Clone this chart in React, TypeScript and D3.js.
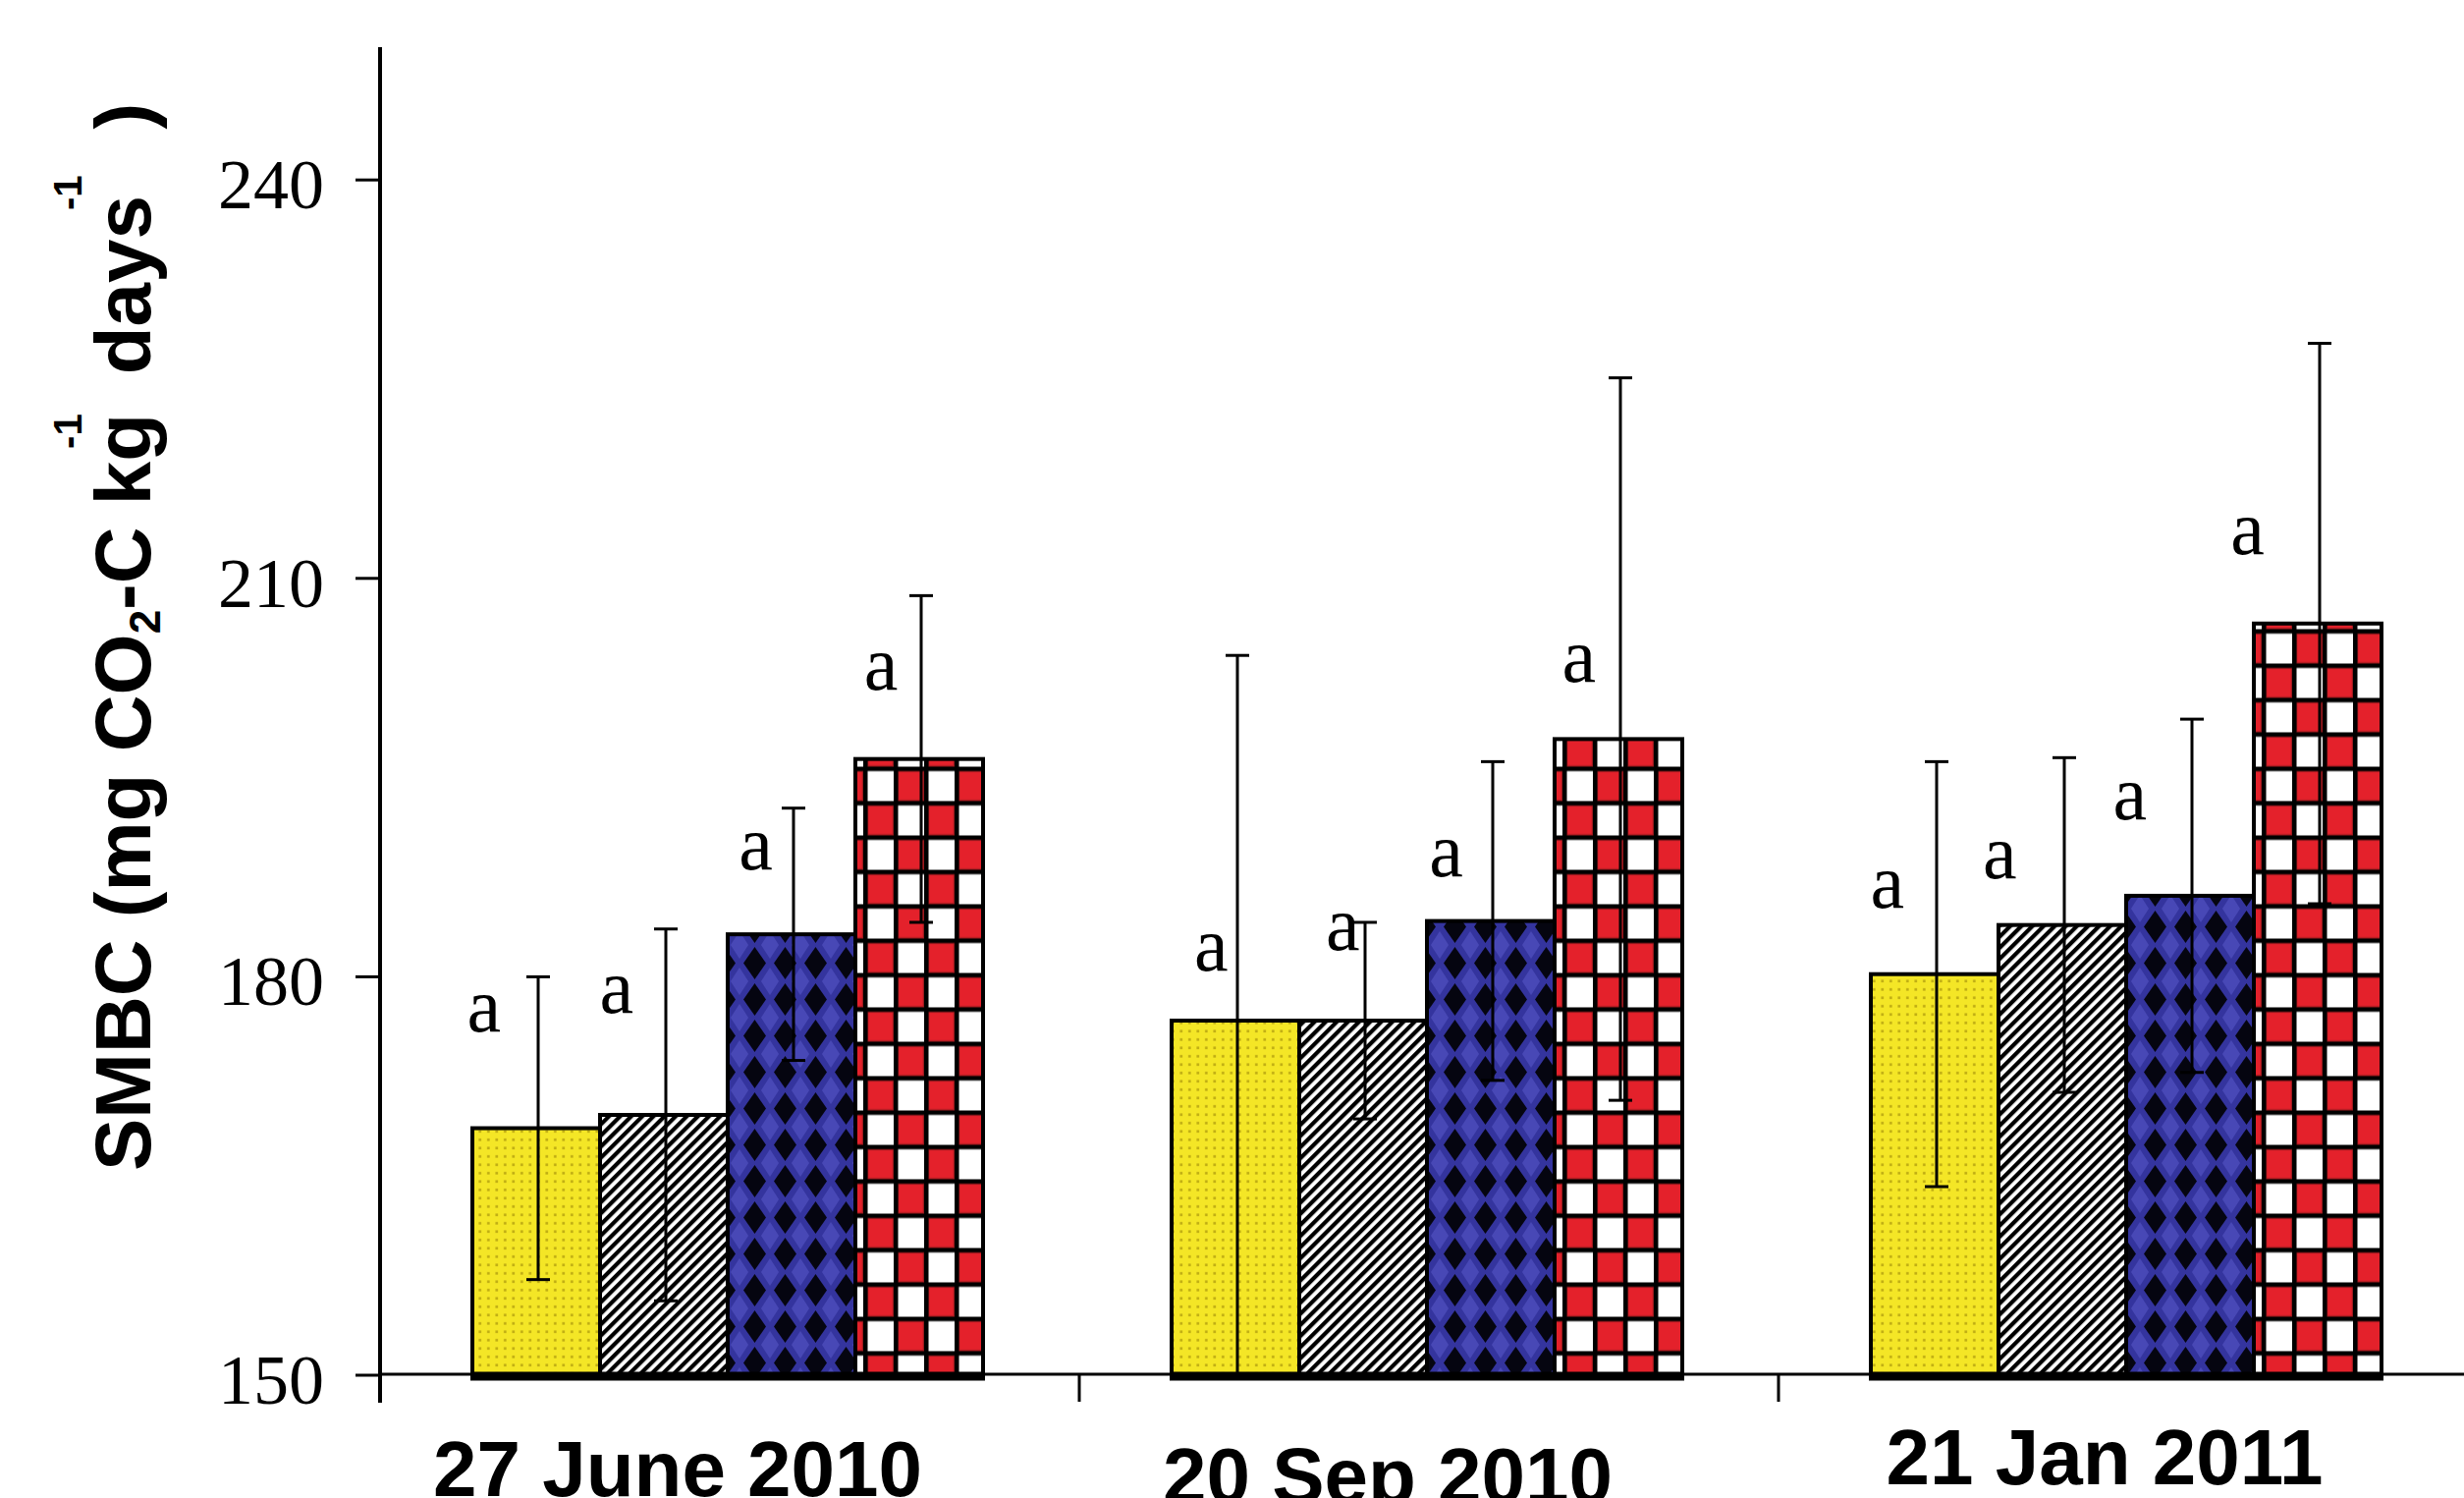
import React from 'react';
import * as d3 from 'd3';

// ---------- data ----------
const dates = ['27 June 2010', '20 Sep 2010', '21 Jan 2011'];
const treatments = ['T1', 'T2', 'T3', 'T4'];

const meanT1 = [168.6, 176.7, 180.2];
const meanT2 = [169.6, 176.7, 183.9];
const meanT3 = [183.2, 184.2, 186.1];
const meanT4 = [196.4, 197.9, 206.6];

const errT1 = [11.4, 27.5, 16.0];
const errT2 = [14.0, 7.4, 12.6];
const errT3 = [9.5, 12.0, 13.3];
const errT4 = [12.3, 27.2, 21.1];

// significance letters, their height (data units) and shift (fraction of bar width)
const letterT1 = ['a', 'a', 'a'];
const letterT2 = ['a', 'a', 'a'];
const letterT3 = ['a', 'a', 'a'];
const letterT4 = ['a', 'a', 'a'];
const letterYT1 = [175.9, 180.5, 185.2];
const letterYT2 = [177.3, 182.0, 187.4];
const letterYT3 = [188.1, 187.6, 191.9];
const letterYT4 = [201.6, 202.2, 211.8];
const letterShiftT1 = [0.09, 0.31, 0.13];
const letterShiftT2 = [0.13, 0.34, 0.01];
const letterShiftT3 = [0.22, 0.15, 0.03];
const letterShiftT4 = [0.2, 0.19, -0.05];

const yTicks = [150, 180, 210, 240];
const yDomain = [150, 250];

const means = [meanT1, meanT2, meanT3, meanT4];
const errs = [errT1, errT2, errT3, errT4];
const letters = [letterT1, letterT2, letterT3, letterT4];
const letterYs = [letterYT1, letterYT2, letterYT3, letterYT4];
const letterShifts = [letterShiftT1, letterShiftT2, letterShiftT3, letterShiftT4];

// ---------- layout ----------
const W = 2509;
const H = 1525;
const X0 = 387;
const STEP = 712;
const Y_BOTTOM = 1400;
const Y_TOP = 48;
const dateNudge = [
  [-53, 0],
  [-42, 7],
  [-24, -12],
];

export default function App() {
  const y = d3.scaleLinear().domain(yDomain).range([Y_BOTTOM, Y_TOP]);
  const x = d3.scaleBand<string>().domain(dates).range([X0, X0 + STEP * dates.length]).padding(0);
  const xi = d3
    .scaleBand<string>()
    .domain(treatments)
    .range([94, STEP - 98])
    .padding(0);
  const bw = xi.bandwidth();

  const fills = ['url(#dots)', 'url(#hatch)', 'url(#diam)', ''];
  const redPhaseY = (Y_BOTTOM - 0.7 * 35) % 70;

  const bars: any[] = [];
  dates.forEach((d, di) => {
    treatments.forEach((t, ti) => {
      const bx = (x(d) as number) + (xi(t) as number);
      bars.push({ di, ti, bx, v: means[ti][di], e: errs[ti][di] });
    });
  });

  return (
    <svg
      width={W}
      height={H}
      style={{ position: 'absolute', left: 0, top: 0, background: '#fff' }}
      xmlns="http://www.w3.org/2000/svg"
    >
      <defs>
        <pattern id="dots" width={8.5} height={8.5} patternUnits="userSpaceOnUse">
          <rect width={8.5} height={8.5} fill="#F4E626" />
          <rect x={3} y={3} width={2.6} height={2.6} fill="#BDAA12" />
        </pattern>
        <pattern
          id="hatch"
          width={8}
          height={8}
          patternUnits="userSpaceOnUse"
          patternTransform="rotate(45)"
        >
          <rect width={8} height={8} fill="#fff" />
          <rect width={4.2} height={8} fill="#000" />
        </pattern>
        <pattern id="diam" width={31} height={37} patternUnits="userSpaceOnUse" x={9} y={0}>
          <rect width={31} height={37} fill="#34349E" />
          <polygon points="0,-14 9,0 0,14 -9,0" fill="#4848B6" />
          <polygon points="31,-14 40,0 31,14 22,0" fill="#4848B6" />
          <polygon points="0,23 9,37 0,51 -9,37" fill="#4848B6" />
          <polygon points="31,23 40,37 31,51 22,37" fill="#4848B6" />
          <polygon points="15.5,2 27,18.5 15.5,35 4,18.5" fill="#050510" />
        </pattern>
        {bars
          .filter((b) => b.ti === 3)
          .map((b) => (
            <pattern
              key={b.di}
              id={`check${b.di}`}
              width={62}
              height={70}
              x={b.bx + 8}
              y={redPhaseY}
              patternUnits="userSpaceOnUse"
            >
              <rect width={62} height={70} fill="#fff" />
              <rect x={4} y={4} width={27} height={31} fill="#E4212B" stroke="#9C1A1E" strokeWidth={2.5} />
              <rect x={35} y={39} width={27} height={31} fill="#E4212B" stroke="#9C1A1E" strokeWidth={2.5} />
              <rect x={0} y={0} width={4.5} height={70} fill="#000" />
              <rect x={31} y={0} width={4.5} height={70} fill="#000" />
              <rect x={0} y={0} width={62} height={4.5} fill="#000" />
              <rect x={0} y={35} width={62} height={4.5} fill="#000" />
            </pattern>
          ))}
      </defs>

      {/* bars */}
      {bars.map((b, i) => (
        <rect
          key={`bar${i}`}
          x={b.bx}
          y={y(b.v)}
          width={bw}
          height={Y_BOTTOM - y(b.v)}
          fill={b.ti === 3 ? `url(#check${b.di})` : fills[b.ti]}
          stroke="#000"
          strokeWidth={4}
        />
      ))}
      {/* thick bar bottoms */}
      {dates.map((d) => (
        <line
          key={`base${d}`}
          x1={(x(d) as number) + (xi(treatments[0]) as number) - 2}
          x2={(x(d) as number) + (xi(treatments[3]) as number) + bw + 2}
          y1={Y_BOTTOM + 1}
          y2={Y_BOTTOM + 1}
          stroke="#000"
          strokeWidth={9}
        />
      ))}

      {/* error bars */}
      {bars.map((b, i) => {
        const cx = b.bx + bw / 2 + 2;
        const hi = b.v + b.e;
        const lo = b.v - b.e;
        const loY = lo < yDomain[0] ? y(yDomain[0]) : y(lo);
        return (
          <g key={`err${i}`} stroke="#000" strokeWidth={3}>
            <line x1={cx} x2={cx} y1={y(hi)} y2={loY} />
            <line x1={cx - 12} x2={cx + 12} y1={y(hi)} y2={y(hi)} />
            {lo >= yDomain[0] && <line x1={cx - 12} x2={cx + 12} y1={y(lo)} y2={y(lo)} />}
          </g>
        );
      })}

      {/* letters */}
      {bars.map((b, i) => (
        <text
          key={`let${i}`}
          x={b.bx + letterShifts[b.ti][b.di] * bw}
          y={y(letterYs[b.ti][b.di])}
          textAnchor="middle"
          fontFamily="'Liberation Serif', 'Times New Roman', serif"
          fontSize={78}
          fill="#000"
        >
          {letters[b.ti][b.di]}
        </text>
      ))}

      {/* y axis */}
      <line x1={X0} x2={X0} y1={Y_TOP} y2={1428} stroke="#000" strokeWidth={4} />
      {yTicks.map((t) => (
        <g key={`yt${t}`}>
          <line x1={362} x2={X0} y1={y(t)} y2={y(t)} stroke="#000" strokeWidth={3} />
          <text
            x={330}
            y={y(t) + 29}
            textAnchor="end"
            fontFamily="'Liberation Serif', 'Times New Roman', serif"
            fontSize={72}
            fill="#000"
          >
            {t}
          </text>
        </g>
      ))}

      {/* x axis */}
      <line x1={X0} x2={W} y1={Y_BOTTOM - 1} y2={Y_BOTTOM - 1} stroke="#000" strokeWidth={3} />
      {dates.slice(1).map((d) => (
        <line
          key={`xt${d}`}
          x1={x(d) as number}
          x2={x(d) as number}
          y1={Y_BOTTOM}
          y2={1427}
          stroke="#000"
          strokeWidth={3}
        />
      ))}
      {dates.map((d, i) => (
        <text
          key={`xl${d}`}
          x={(x(d) as number) + STEP / 2 + dateNudge[i][0]}
          y={1523 + dateNudge[i][1]}
          textAnchor="middle"
          fontFamily="'Liberation Sans', Arial, sans-serif"
          fontWeight="bold"
          fontSize={80}
          fill="#000"
        >
          {d}
        </text>
      ))}

      {/* y title */}
      <text
        transform="translate(153,1192) rotate(-90)"
        fontFamily="'Liberation Sans', Arial, sans-serif"
        fontWeight="bold"
        fontSize={80}
        fill="#000"
      >
        <tspan>SMBC (mg CO</tspan>
        <tspan fontSize={44} dy={10}>2</tspan>
        <tspan dy={-10}>-C kg</tspan>
        <tspan fontSize={40} dx={-36} dy={-70}>-1</tspan>
        <tspan dx={40} dy={70}>days</tspan>
        <tspan fontSize={40} dx={-15} dy={-70}>-1</tspan>
        <tspan dx={47} dy={70}>)</tspan>
      </text>
    </svg>
  );
}
